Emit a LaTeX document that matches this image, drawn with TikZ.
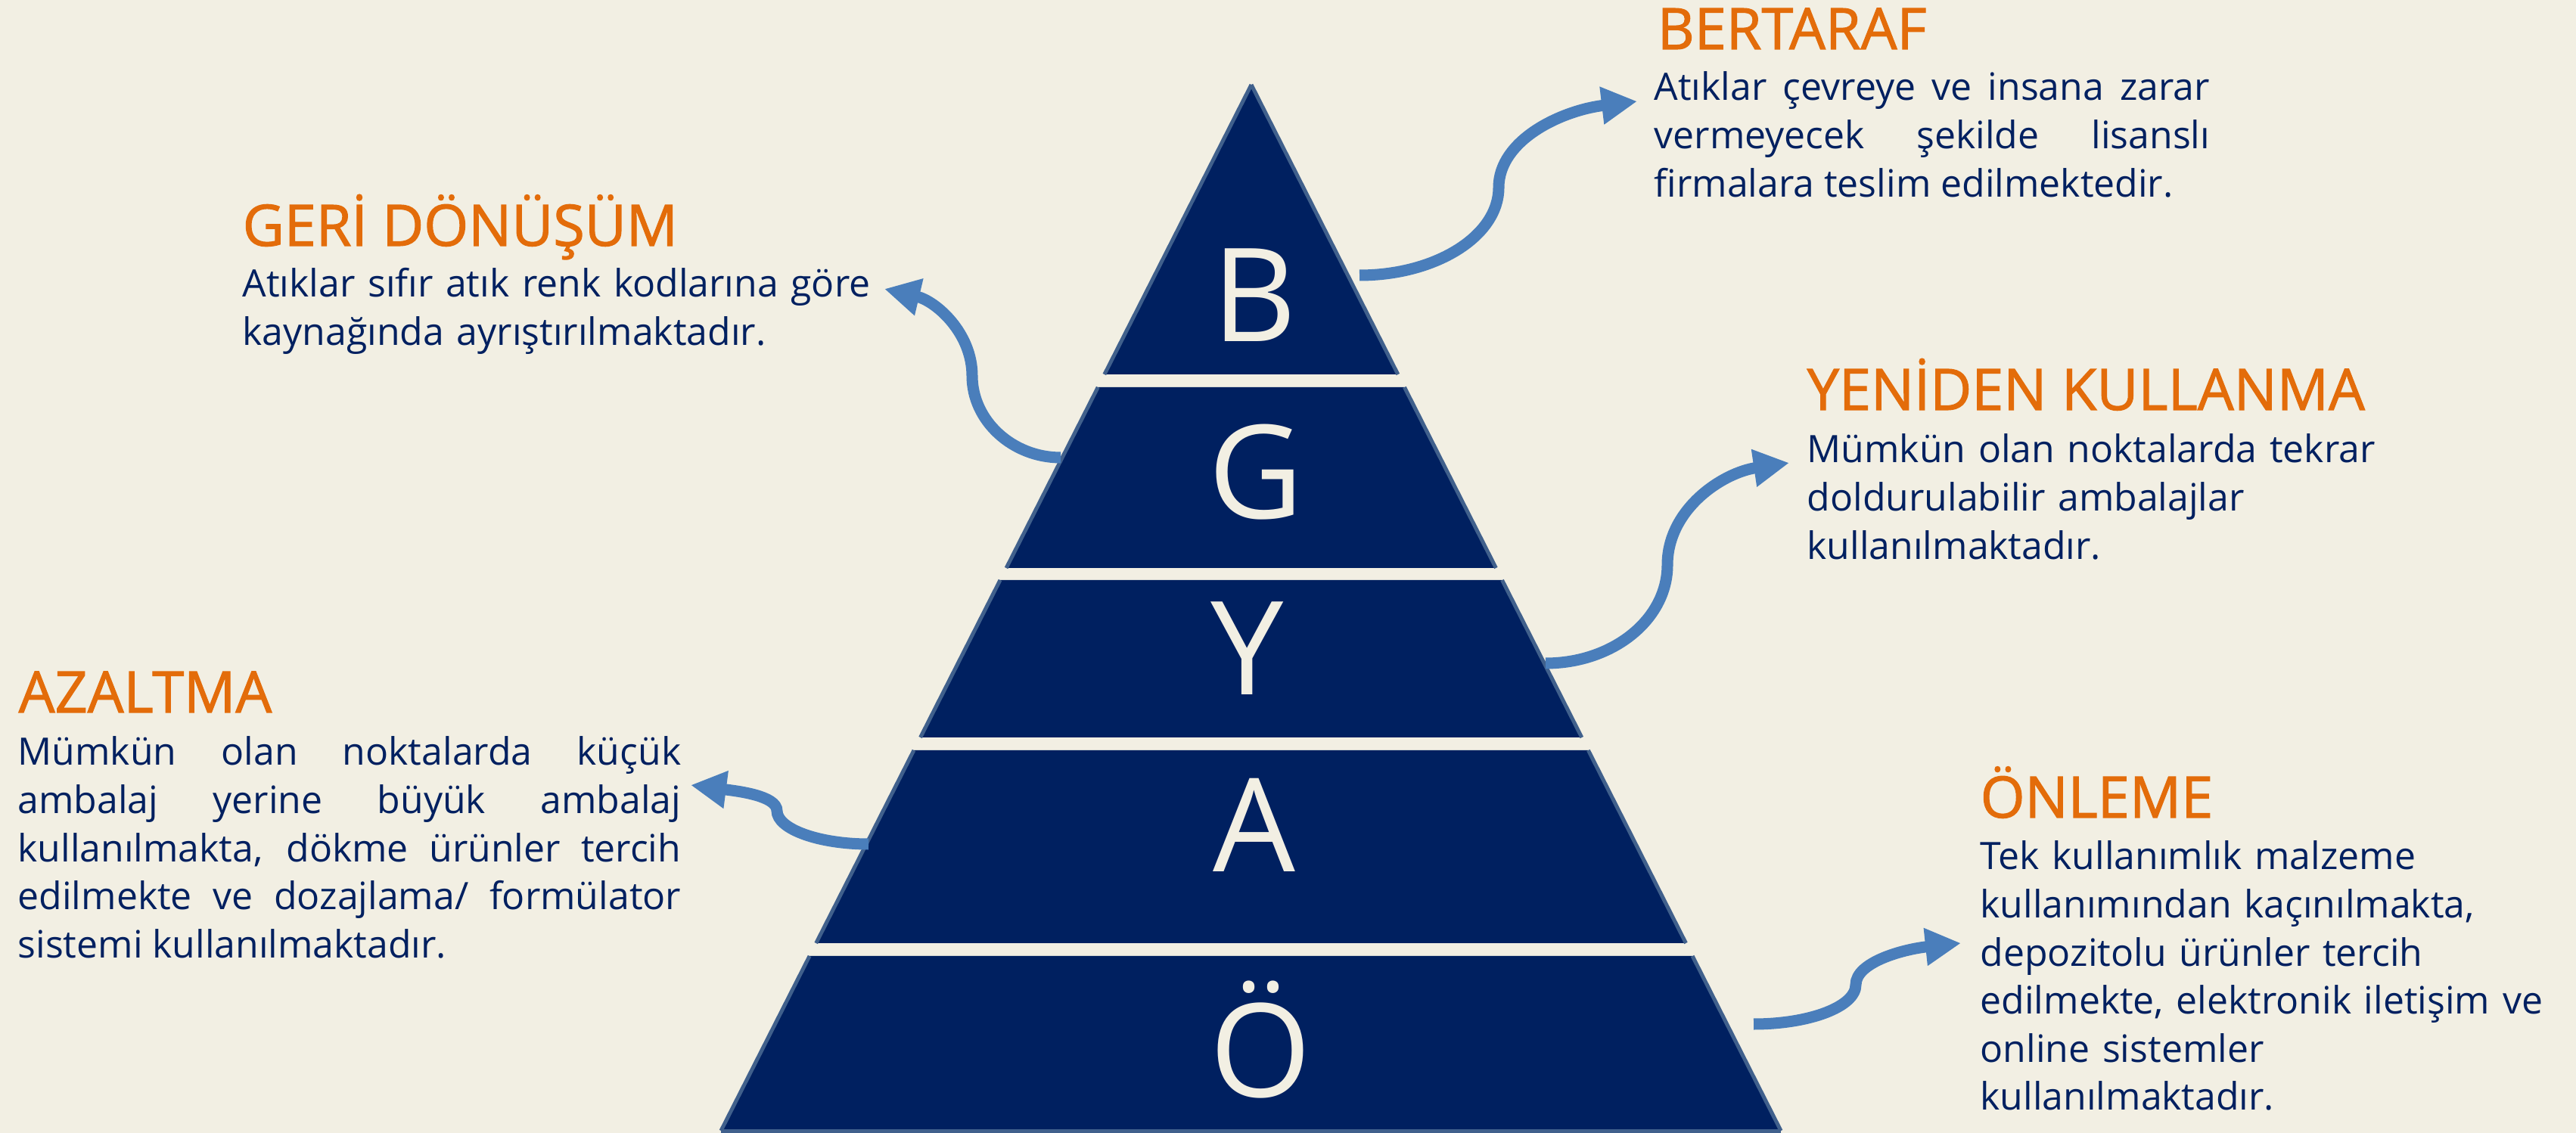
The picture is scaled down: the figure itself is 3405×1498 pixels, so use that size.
\documentclass[tikz,border=0pt]{standalone}
\usepackage{fontspec}
\setmainfont{Open Sans}
\newfontfamily\baslikfont[FakeBold=1.5]{Open Sans}
\usetikzlibrary{arrows.meta,calc}

\definecolor{zemin}{RGB}{242,239,227}
\definecolor{lacivert}{RGB}{0,32,96}
\definecolor{kenarmavi}{RGB}{64,96,140}
\definecolor{turuncu}{RGB}{227,108,10}
\definecolor{okmavi}{RGB}{74,126,187}

\begin{document}
\begin{tikzpicture}[x=0.01cm, y=-0.01cm,
        baslik/.style={anchor=base west, inner sep=0pt, text=turuncu, font=\baslikfont\fontsize{21.5pt}{25pt}\selectfont},
        metin/.style={anchor=base west, inner sep=0pt, text=lacivert, font=\fontsize{14.2pt}{18.07pt}\selectfont},
        harf/.style={anchor=base, inner sep=0pt, text=zemin, font=\fontsize{48.9pt}{52pt}\selectfont},
        kenar/.style={draw=kenarmavi, line width=0.5mm},
        ok/.style={draw=okmavi, line width=1.5mm, -{Triangle[length=4.7mm, width=4.7mm]}}]

        \useasboundingbox[fill=zemin] (0,0) rectangle (3405,1498);

        \coordinate (tepe) at (1654,112);
        \coordinate (solalt) at (953,1495);
        \coordinate (sagalt) at (2354,1495);

        % Katlar
        \foreach \ust/\alt/\hx/\hy/\harf [count=\i] in {112/495/1658/452/B, 512/751/1660/686/G, 767/975/1649/919/Y, 992/1247/1658/1153/A, 1264/1495/1666/1450/Ö}
        {
            \pgfmathsetmacro\fu{(\ust-112)/1383}
            \pgfmathsetmacro\fa{(\alt-112)/1383}
            \fill[lacivert] ($(tepe)!\fu!(solalt)$) -- ($(tepe)!\fa!(solalt)$) -- ($(tepe)!\fa!(sagalt)$) -- ($(tepe)!\fu!(sagalt)$) -- cycle;
            \draw[kenar] ($(tepe)!\fu!(solalt)$) -- ($(tepe)!\fa!(solalt)$) ($(tepe)!\fu!(sagalt)$) -- ($(tepe)!\fa!(sagalt)$);
            \node[harf] (kat\i) at (\hx,\hy) {\harf};
        }
        \draw[kenar] (solalt) -- (sagalt);

        % Basliklar ve metinler
        \node[baslik] (bertaraf) at (2190,65) {BERTARAF};
        \node[metin, text width=7.34cm, align=justify] (bertarafmetin) at (2186,133) {Atıklar çevreye ve insana zarar\linebreak vermeyecek şekilde lisanslı\linebreak firmalara teslim edilmektedir.};

        \node[baslik] (geri) at (320,325) {GERİ DÖNÜŞÜM};
        \node[metin, text width=9cm, align=left] (gerimetin) at (320,393) {Atıklar sıfır atık renk kodlarına göre\\ kaynağında ayrıştırılmaktadır.};

        \node[baslik] (yeniden) at (2388,542) {YENİDEN KULLANMA};
        \node[metin, text width=9cm, align=left] (yenidenmetin) at (2388,612) {Mümkün olan noktalarda tekrar\\ doldurulabilir ambalajlar\\ kullanılmaktadır.};

        \node[baslik] (azaltma) at (24,942) {AZALTMA};
        \node[metin, text width=8.76cm, align=justify] (azaltmametin) at (23,1012) {Mümkün olan noktalarda küçük\linebreak ambalaj yerine büyük ambalaj\linebreak kullanılmakta, dökme ürünler tercih\linebreak edilmekte ve dozajlama/ formülator\linebreak sistemi kullanılmaktadır.};

        \node[baslik] (onleme) at (2617,1081) {ÖNLEME};
        \node[metin, text width=9cm, align=left] (onlememetin) at (2617,1150) {Tek kullanımlık malzeme\\ kullanımından kaçınılmakta,\\ depozitolu ürünler tercih\\ edilmekte, elektronik iletişim ve\\ online sistemler\\ kullanılmaktadır.};

        % Oklar
        \coordinate (b-kuyruk) at (1797,364);
        \coordinate (b-kivrim) at (1981,248);
        \coordinate (b-uc) at (2164,134);
        \draw[ok] (b-kuyruk) .. controls +(101,0) and +(0,64) .. (b-kivrim) .. controls +(0,-63) and +(-100,12) .. (b-uc);

        \coordinate (g-kuyruk) at (1402,605);
        \coordinate (g-kivrim) at (1285,497);
        \coordinate (g-uc) at (1169,382);
        \draw[ok] (g-kuyruk) .. controls +(-64,0) and +(0,59) .. (g-kivrim) .. controls +(0,-57) and +(68,16) .. (g-uc);

        \coordinate (y-kuyruk) at (2043,877);
        \coordinate (y-kivrim) at (2204,747);
        \coordinate (y-uc) at (2365,612);
        \draw[ok] (y-kuyruk) .. controls +(89,0) and +(0,72) .. (y-kivrim) .. controls +(0,-74) and +(-88,13) .. (y-uc);

        \coordinate (a-kuyruk) at (1148,1116);
        \coordinate (a-kivrim) at (1027,1072);
        \coordinate (a-uc) at (913,1038);
        \draw[ok] (a-kuyruk) .. controls +(-66,0) and +(0,24) .. (a-kivrim) .. controls +(0,-20) and +(62,8) .. (a-uc);

        \coordinate (o-kuyruk) at (2318,1354);
        \coordinate (o-kivrim) at (2453,1302);
        \coordinate (o-uc) at (2592,1247);
        \draw[ok] (o-kuyruk) .. controls +(74,0) and +(0,29) .. (o-kivrim) .. controls +(0,-30) and +(-76,8) .. (o-uc);

\end{tikzpicture}
\end{document}
